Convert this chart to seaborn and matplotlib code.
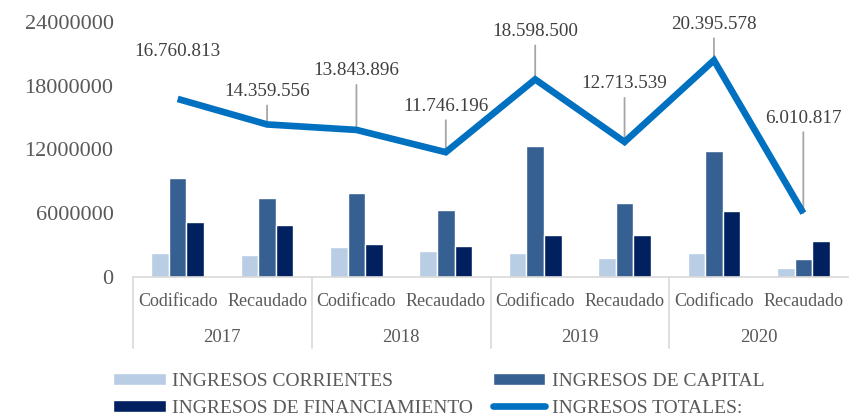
import matplotlib
matplotlib.use("Agg")
import matplotlib.pyplot as plt
from matplotlib.lines import Line2D
from matplotlib.patches import Patch
import seaborn as sns
import pandas as pd

# ---------------- data ----------------
years = ["2017", "2018", "2019", "2020"]
kinds = ["Codificado", "Recaudado"]
corrientes = [2290000, 2080000, 2830000, 2450000, 2260000, 1790000, 2260000, 850000]
capital = [9340000, 7450000, 7920000, 6320000, 12360000, 6980000, 11890000, 1700000]
financiamiento = [5190000, 4900000, 3110000, 2920000, 3960000, 3960000, 6230000, 3400000]
totales = [16760813, 14359556, 13843896, 11746196, 18598500, 12713539, 20395578, 6010817]
total_labels = ["16.760.813", "14.359.556", "13.843.896", "11.746.196",
                "18.598.500", "12.713.539", "20.395.578", "6.010.817"]
series_names = ["INGRESOS CORRIENTES", "INGRESOS DE CAPITAL", "INGRESOS DE FINANCIAMIENTO"]
line_name = "INGRESOS TOTALES:"
yticks = [0, 6000000, 12000000, 18000000, 24000000]

# ---------------- style ----------------
sns.set_theme(style="white")
FAM = ["Liberation Serif", "DejaVu Serif"]
plt.rcParams["font.family"] = FAM
GRAY = "#595959"
colors = ["#B9CDE5", "#376092", "#002060"]
LINE_C = "#0070C0"

cats = [f"{y} {k}" for y in years for k in kinds]
rows = []
for i, c in enumerate(cats):
    for name, vals in zip(series_names, [corrientes, capital, financiamiento]):
        rows.append({"cat": c, "serie": name, "valor": vals[i]})
df = pd.DataFrame(rows)

W, H = 849, 417
fig = plt.figure(figsize=(W / 100, H / 100), dpi=100)
ax = fig.add_axes([133 / W, 1 - 277 / H, (848 - 133) / W, (277 - 22) / H])

sns.barplot(data=df, x="cat", y="valor", hue="serie", order=cats,
            hue_order=series_names, palette=colors, width=0.59,
            saturation=1, ax=ax, legend=False, zorder=2)

xs = list(range(len(cats)))
sns.lineplot(x=xs, y=totales, ax=ax, color=LINE_C, linewidth=4.8,
             zorder=4, legend=False, sort=False)
for l in ax.lines:
    l.set_solid_joinstyle("miter")
    l.set_solid_capstyle("butt")

ax.set_xlim(-0.5, 7.5)
ax.set_ylim(0, 24000000)
ax.set_yticks(yticks)
ax.set_yticklabels([str(v) for v in yticks], fontsize=16, color=GRAY)
ax.tick_params(axis="y", length=0, pad=14)
ax.set_xticks([])
ax.set_xlabel("")
ax.set_ylabel("")
for s in ["top", "right", "left"]:
    ax.spines[s].set_visible(False)
ax.spines["bottom"].set_color("#D9D9D9")
ax.spines["bottom"].set_linewidth(1.2)

# data labels for the total line (offsets in pixels)
label_off = [47, 33, 59, 46, 48, 58, 36, 95]
leader = [False, True, True, True, True, True, True, True]
for i, (v, t) in enumerate(zip(totales, total_labels)):
    ax.annotate(t, xy=(i, v), xytext=(0, label_off[i]), textcoords="offset pixels",
                ha="center", va="center", fontsize=13.8, color="#404040", zorder=5)
    if leader[i]:
        ax.annotate("", xy=(i, v), xytext=(0, label_off[i] - 14),
                    textcoords="offset pixels",
                    arrowprops=dict(arrowstyle="-", color="#A6A6A6", lw=1.3,
                                    shrinkA=0, shrinkB=0), zorder=3)

# multi-level category axis
tr = ax.get_xaxis_transform()
for i, c in enumerate(cats):
    ax.annotate(c.split(" ")[1], xy=(i, 0), xycoords=tr, xytext=(0, -24),
                textcoords="offset pixels", ha="center", va="center",
                fontsize=13, color=GRAY, annotation_clip=False)
for j, y in enumerate(years):
    ax.annotate(y, xy=(2 * j + 0.5, 0), xycoords=tr, xytext=(0, -61),
                textcoords="offset pixels", ha="center", va="center",
                fontsize=13.5, color=GRAY, annotation_clip=False)
for xb in [-0.5, 1.5, 3.5, 5.5]:
    ax.plot([xb, xb], [0, -71 / 255], transform=tr, color="#D9D9D9",
            lw=1.2, clip_on=False)

# legend
handles = [Patch(facecolor=colors[0], label=series_names[0]),
           Patch(facecolor=colors[2], label=series_names[2]),
           Patch(facecolor=colors[1], label=series_names[1]),
           Line2D([0], [0], color=LINE_C, lw=4.8, label=line_name)]
leg = fig.legend(handles=handles, ncol=2, loc="upper left",
                 bbox_to_anchor=(113 / W, 1 - 373 / H), frameon=False,
                 prop={"family": FAM, "size": 14},
                 handlelength=2.7, handleheight=0.6,
                 handletextpad=0.35, columnspacing=1.0, labelspacing=0.5,
                 borderpad=0, borderaxespad=0)
for t in leg.get_texts():
    t.set_color(GRAY)

fig.savefig("out.png", dpi=100)
